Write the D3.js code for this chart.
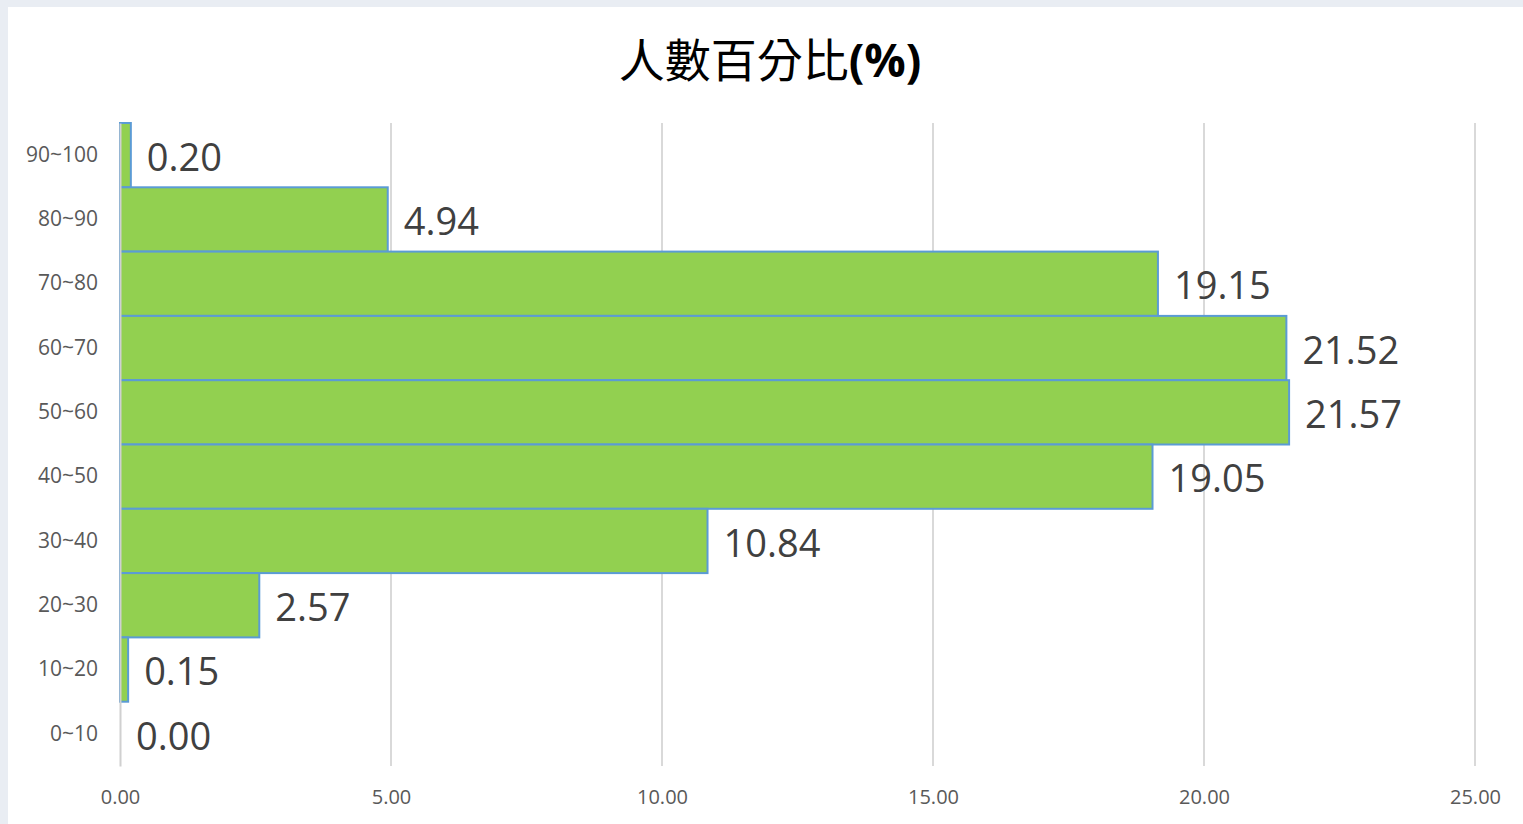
<!DOCTYPE html>
<html>
<head>
<meta charset="utf-8">
<script src="https://cdn.jsdelivr.net/npm/d3@7"></script>
<style>
  body { margin: 0; background: #e9edf3; }
  svg { display: block; }
</style>
</head>
<body>
<script>
// data
var categories = ["90~100", "80~90", "70~80", "60~70", "50~60", "40~50", "30~40", "20~30", "10~20", "0~10"];
var values = [0.20, 4.94, 19.15, 21.52, 21.57, 19.05, 10.84, 2.57, 0.15, 0.00];
var xTicks = [0, 5, 10, 15, 20, 25];

var width = 1523, height = 824;
var margin = { top: 123, right: 48, bottom: 58, left: 120 };

var svg = d3.select("body").append("svg")
  .attr("width", width)
  .attr("height", height);

// white chart area (leaves light strip on top/left)
svg.append("rect")
  .attr("x", 8).attr("y", 7)
  .attr("width", width - 8).attr("height", height - 7)
  .attr("fill", "#ffffff");

var x = d3.scaleLinear().domain([0, 25]).range([margin.left, width - margin.right]);
var y = d3.scaleBand().domain(categories).range([margin.top, height - margin.bottom]).padding(0);

// title
svg.append("text")
  .attr("x", 770).attr("y", 77)
  .attr("text-anchor", "middle")
  .attr("font-family", "'Noto Sans CJK TC', sans-serif")
  .attr("font-size", 46)
  .attr("fill", "#000")
  .text("人數百分比")
  .append("tspan")
  .attr("font-weight", "bold")
  .attr("font-family", "'Open Sans', 'Noto Sans CJK TC', sans-serif")
  .text("(%)");

// gridlines
svg.append("g").selectAll("line")
  .data(xTicks.slice(1))
  .enter().append("line")
  .attr("x1", function(d) { return x(d); })
  .attr("x2", function(d) { return x(d); })
  .attr("y1", margin.top)
  .attr("y2", height - margin.bottom)
  .attr("stroke", "#d9d9d9")
  .attr("stroke-width", 2);

// x axis labels
var xAxis = d3.axisBottom(x).tickValues(xTicks).tickFormat(d3.format(".2f")).tickSize(0).tickPadding(24);
var gx = svg.append("g")
  .attr("transform", "translate(0," + (height - margin.bottom) + ")")
  .call(xAxis);
gx.select(".domain").remove();
gx.selectAll("text")
  .attr("font-family", "'Open Sans', sans-serif")
  .attr("font-size", 20)
  .attr("fill", "#595959");

// bars
svg.append("g").selectAll("rect")
  .data(values)
  .enter().append("rect")
  .attr("x", x(0))
  .attr("y", function(d, i) { return y(categories[i]); })
  .attr("width", function(d) { return x(d) - x(0); })
  .attr("height", y.bandwidth())
  .attr("fill", "#92d050")
  .attr("stroke", "#5b9bd5")
  .attr("stroke-width", 2);

// y axis
var yAxis = d3.axisLeft(y).tickSize(0).tickPadding(22);
var gy = svg.append("g")
  .attr("transform", "translate(" + margin.left + ",0)")
  .call(yAxis);
gy.select(".domain").attr("stroke", "#d0d0d0").attr("stroke-width", 2);
gy.selectAll("text")
  .attr("font-family", "'Open Sans', sans-serif")
  .attr("font-size", 21)
  .attr("fill", "#595959");

// value labels
svg.append("g").selectAll("text")
  .data(values)
  .enter().append("text")
  .attr("x", function(d) { return x(d) + 16; })
  .attr("y", function(d, i) { return y(categories[i]) + y.bandwidth() / 2 + 2; })
  .attr("dy", "0.36em")
  .attr("font-family", "'Open Sans', sans-serif")
  .attr("font-size", 38)
  .attr("fill", "#404040")
  .text(function(d) { return d.toFixed(2); });
</script>
</body>
</html>
